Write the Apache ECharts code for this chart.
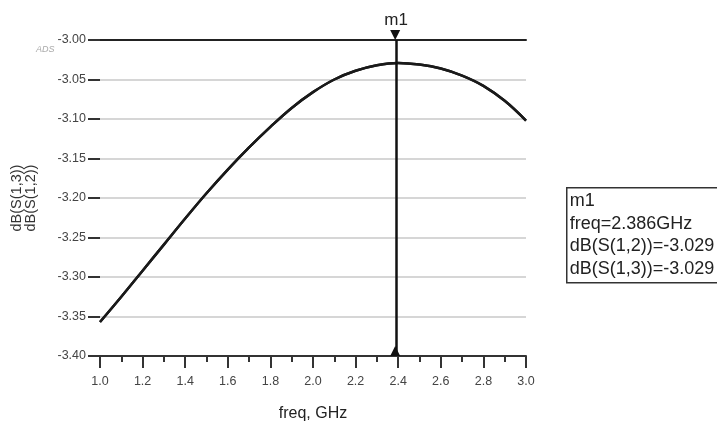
<!DOCTYPE html>
<html><head><meta charset="utf-8">
<script src="https://cdn.jsdelivr.net/npm/echarts@6/dist/echarts.min.js"></script>
<style>html,body{margin:0;padding:0;background:#fff}#c{width:717px;height:428px}</style>
</head><body><div id="c"></div>
<script>
// ---- data ----
const freqGHz = [1.0,1.1,1.2,1.3,1.4,1.5,1.6,1.7,1.8,1.9,2.0,2.1,2.2,2.3,2.4,2.5,2.6,2.7,2.8,2.9,3.0];
const dB_S12 = [-3.357,-3.325,-3.292,-3.259,-3.226,-3.194,-3.164,-3.136,-3.110,-3.086,-3.066,-3.050,-3.039,-3.032,-3.029,-3.031,-3.036,-3.045,-3.058,-3.077,-3.102];
const dB_S13 = [-3.357,-3.325,-3.292,-3.259,-3.226,-3.194,-3.164,-3.136,-3.110,-3.086,-3.066,-3.050,-3.039,-3.032,-3.029,-3.031,-3.036,-3.045,-3.058,-3.077,-3.102];
const yTickLabels = ['-3.40','-3.35','-3.30','-3.25','-3.20','-3.15','-3.10','-3.05','-3.00'];
const xTickLabels = ['1.0','1.2','1.4','1.6','1.8','2.0','2.2','2.4','2.6','2.8','3.0'];
const markerName = 'm1';
const markerFreq = 2.386;
const markerS12 = -3.029;
const markerS13 = -3.029;

const yMin = parseFloat(yTickLabels[0]);
const yMax = parseFloat(yTickLabels[yTickLabels.length-1]);
const xMin = parseFloat(xTickLabels[0]);
const xMax = parseFloat(xTickLabels[xTickLabels.length-1]);

const FONT = '"Liberation Sans", Arial, sans-serif';
const chart = echarts.init(document.getElementById('c'), null, {renderer:'canvas'});

const toPairs = (ys) => freqGHz.map((f,i)=>[f, ys[i]]);

chart.setOption({
  backgroundColor:'#fff',
  animation:false,
  grid:{left:100, right:191, top:40, bottom:72, containLabel:false, outerBoundsMode:'none'},
  xAxis:[{
    type:'value', min:xMin, max:xMax, interval:0.2,
    name:'freq, GHz', nameLocation:'middle', nameGap:50,
    nameTextStyle:{fontFamily:FONT, fontSize:16, color:'#222'},
    axisLine:{show:true, onZero:false, lineStyle:{color:'#333', width:2}},
    axisTick:{show:true, inside:false, length:12, lineStyle:{color:'#333', width:2}},
    minorTick:{show:true, splitNumber:2, length:6, lineStyle:{color:'#333', width:2}},
    splitLine:{show:false},
    axisLabel:{margin:19, fontFamily:FONT, fontSize:12.5, color:'#444', formatter:v=>v.toFixed(1)}
  },{
    type:'value', min:xMin, max:xMax, position:'top',
    axisLine:{show:true, onZero:false, lineStyle:{color:'#222', width:2}},
    axisTick:{show:false}, axisLabel:{show:false}, splitLine:{show:false}
  }],
  yAxis:{
    type:'value', min:yMin, max:yMax, interval:0.05,
    name:'dB(S(1,3))\ndB(S(1,2))', nameLocation:'middle', nameGap:62, nameRotate:90,
    nameTextStyle:{fontFamily:FONT, fontSize:14.5, lineHeight:14, color:'#333'},
    axisLine:{show:false},
    axisTick:{show:true, inside:false, length:12, lineStyle:{color:'#333', width:2}},
    splitLine:{show:true, lineStyle:{color:'#c8c8c8', width:1.5}},
    axisLabel:{margin:14, fontFamily:FONT, fontSize:12.5, color:'#444', formatter:v=>v.toFixed(2)}
  },
  series:[{
    name:'dB(S(1,2))', type:'line', data:toPairs(dB_S12), smooth:0.4, showSymbol:false,
    lineStyle:{color:'#1a1a1a', width:2.5}, z:3,
    markLine:{
      silent:true, symbol:'none', animation:false,
      lineStyle:{color:'#111', width:2.5, type:'solid'},
      label:{show:true, position:'end', distance:11, formatter:markerName, fontFamily:FONT, fontSize:17, color:'#222'},
      data:[{xAxis:markerFreq}]
    },
    markPoint:{
      silent:true, animation:false,
      itemStyle:{color:'#111'},
      label:{show:false},
      data:[
        {coord:[markerFreq, yMax], symbol:'triangle', symbolSize:[10,10], symbolRotate:180, symbolOffset:[0,-5]},
        {coord:[markerFreq, yMin], symbol:'triangle', symbolSize:[10,10], symbolRotate:0, symbolOffset:[0,-5]}
      ]
    }
  },{
    name:'dB(S(1,3))', type:'line', data:toPairs(dB_S13), smooth:0.4, showSymbol:false,
    lineStyle:{color:'#1a1a1a', width:2.5}, z:3
  }],
  graphic:[
    {type:'text', left:36, top:45, silent:true,
     style:{text:'ADS', font:'italic 9px ' + FONT, fill:'#aaa'}},
    {type:'group', left:566, top:187, silent:true, children:[
      {type:'rect', shape:{x:0, y:0, width:200, height:95},
       style:{fill:'#fff', stroke:'#333', lineWidth:1.5}},
      {type:'text', x:3, y:2,
       style:{text:[markerName,
                    'freq=' + markerFreq.toFixed(3) + 'GHz',
                    'dB(S(1,2))=' + markerS12.toFixed(3),
                    'dB(S(1,3))=' + markerS13.toFixed(3)].join('\n'),
              font:'18px ' + FONT, lineHeight:22.7, fill:'#222'}}
    ]}
  ]
});
</script></body></html>
